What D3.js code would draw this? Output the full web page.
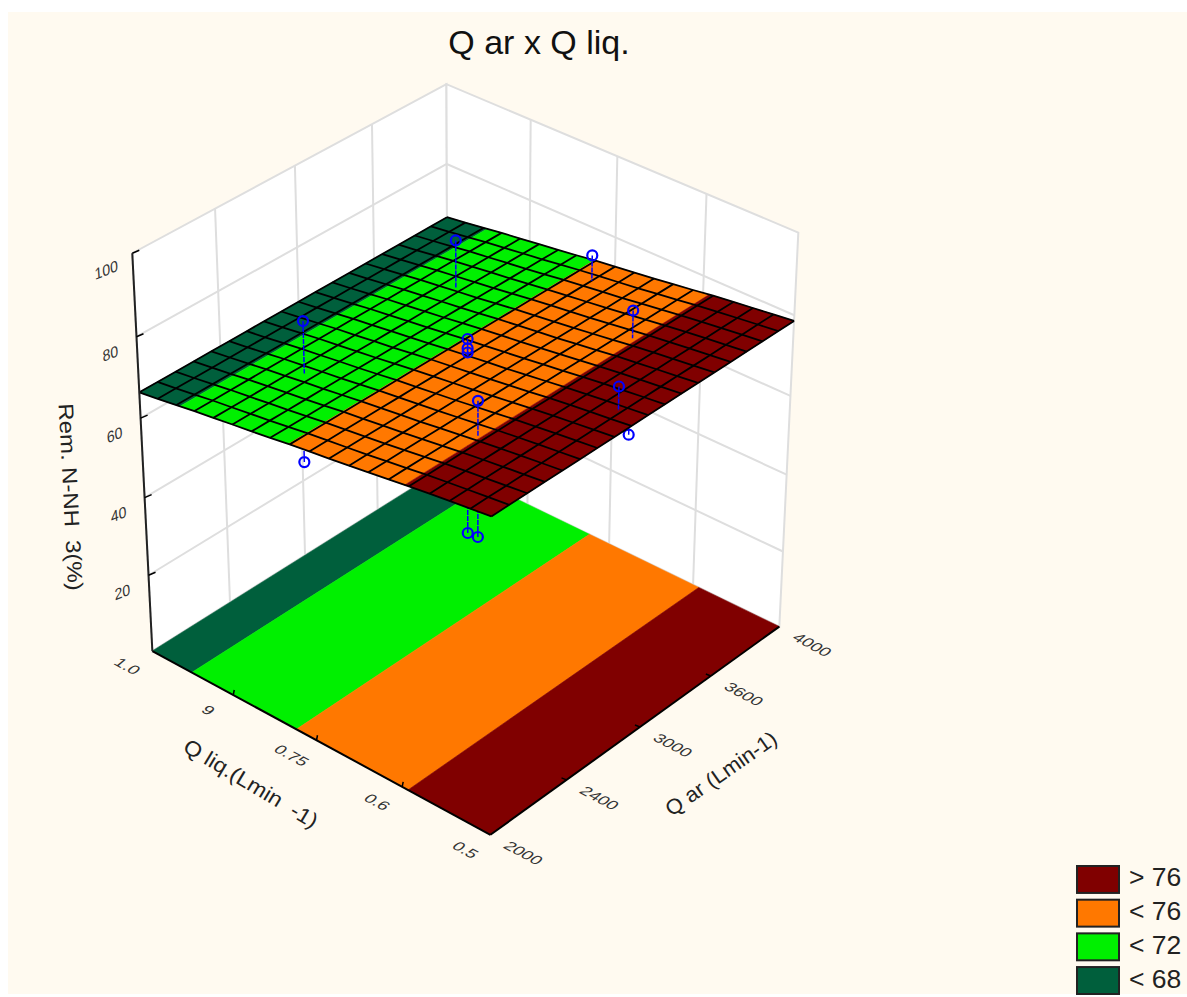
<!DOCTYPE html>
<html><head><meta charset="utf-8">
<script src="https://cdnjs.cloudflare.com/ajax/libs/d3/7.8.5/d3.min.js"></script>
<style>html,body{margin:0;padding:0;background:#fff}svg{display:block}text{font-family:"Liberation Sans",Arial,sans-serif}</style>
</head><body><svg id="c" width="1187" height="997"></svg>
<script>
// ---- data ----
const qarTicks = [2000, 2500, 3000, 3500, 4000];
const qarLabels = ["2000", "2400", "3000", "3600", "4000"];
const qliqTicks = [1.0, 0.875, 0.75, 0.625, 0.5];
const qliqLabels = ["1.0", "9", "0.75", "0.6", "0.5"];
const remTicks = [20, 40, 60, 80, 100];
const bandLimits = [68, 72, 76];
const legendLabels = ["> 76", "< 76", "< 72", "< 68"];
const legendColors = ["#800000", "#ff7800", "#00f000", "#005f3c"];
// surface height at each Q liq. grid row (Q liq. = 1.0 down to 0.5)
const surfaceQliq = [1.0,0.972,0.944,0.917,0.889,0.861,0.833,0.806,0.778,0.75,0.722,0.694,0.667,0.639,0.611,0.583,0.556,0.528,0.5];
const surfaceRem  = [66.4,67.1,67.85,68.6,69.25,69.95,70.6,71.3,72.05,72.7,73.35,74.0,74.7,75.4,76.15,76.8,77.4,78.0,78.6];
const surfaceQar  = [2000,2111,2222,2333,2444,2556,2667,2778,2889,3000,3111,3222,3333,3444,3556,3667,3778,3889,4000];
// observed points
const obsQar  = [3470,2504,3000,3000,3000,2470,2000,3000,2470,3838,3500,2960,2872];
const obsQliq = [0.870,0.875,0.75,0.75,0.75,0.62,0.7575,0.75,0.62,0.75,0.623,0.532,0.5];
const obsRem  = [81.5,82.4,76.8,74.5,73.5,84.5,69.5,27.9,51.5,79.0,82.6,83.75,76.9];

// ---- view: where the corners of the plot box fall on the page ----
const view = [
 [0,0,0,490,835],[1,0,0,780,626],[0,1,0,153,651],[1,1,0,447,466],
 [0,1,1,132,253],[1,0,1,798,233],[1,1,1,447,84]
];
function solve(A,b){const n=b.length;const M=A.map((r,i)=>[...r,b[i]]);
 for(let i=0;i<n;i++){let p=i;for(let k=i+1;k<n;k++)if(Math.abs(M[k][i])>Math.abs(M[p][i]))p=k;[M[i],M[p]]=[M[p],M[i]];
  for(let k=0;k<n;k++){if(k===i)continue;const f=M[k][i]/M[i][i];for(let j=i;j<=n;j++)M[k][j]-=f*M[i][j];}}
 return M.map((r,i)=>r[n]/r[i]);}
const rows=[],rhs=[];
view.forEach(([x,y,z,X,Y])=>{
 rows.push([x,y,z,1,0,0,0,0,-X*x,-X*y,-X*z]);rhs.push(X);
 rows.push([0,0,0,0,x,y,z,1,-Y*x,-Y*y,-Y*z]);rhs.push(Y);});
const AtA=d3.range(11).map(i=>d3.range(11).map(j=>d3.sum(rows,r=>r[i]*r[j])));
const Atb=d3.range(11).map(i=>d3.sum(rows,(r,k)=>r[i]*rhs[k]));
const P=solve(AtA,Atb);
const unit=(u,v,w)=>{const d=P[8]*u+P[9]*v+P[10]*w+1;return [(P[0]*u+P[1]*v+P[2]*w+P[3])/d,(P[4]*u+P[5]*v+P[6]*w+P[7])/d];};

const sx=d3.scaleLinear().domain([2000,4000]).range([0,1]);
const sy=d3.scaleLinear().domain([0.5,1.0]).range([0,1]);
const sz=d3.scaleLinear().domain([0,100]).range([0,1]);
const pr=(q,l,r)=>unit(sx(q),sy(l),sz(r));
const line=d3.line();
const surf=d3.scaleLinear().domain(surfaceQliq).range(surfaceRem);
const levelToQliq=d3.scaleLinear().domain(surfaceRem).range(surfaceQliq);

const svg=d3.select("#c");
svg.append("rect").attr("x",8).attr("y",12).attr("width",1179).attr("height",982).attr("fill","#fffaf0");
const GRID="#dedede";
// walls
const [x0,x1]=sx.domain(),[y0,y1]=[0.5,1.0];
const wall=(pts)=>svg.append("path").attr("d",line(pts)+"Z").attr("fill","#fff").attr("stroke",GRID).attr("stroke-width",2);
wall([pr(x0,y1,0),pr(x1,y1,0),pr(x1,y1,100),pr(x0,y1,100)]);
wall([pr(x1,y1,0),pr(x1,y0,0),pr(x1,y0,100),pr(x1,y1,100)]);
const seg=(g,a,b,c,w)=>g.append("path").attr("d",line([a,b])).attr("stroke",c).attr("stroke-width",w).attr("fill","none");
const gg=svg.append("g");
remTicks.slice(0,4).forEach(r=>{seg(gg,pr(x0,y1,r),pr(x1,y1,r),GRID,2);seg(gg,pr(x1,y1,r),pr(x1,y0,r),GRID,2);});
qarTicks.slice(1,4).forEach(q=>seg(gg,pr(q,y1,0),pr(q,y1,100),GRID,2));
qliqTicks.slice(1,4).forEach(l=>seg(gg,pr(x1,l,0),pr(x1,l,100),GRID,2));

// band edges in Q liq.
const limits=[1.0,...bandLimits.map(levelToQliq),0.5];
const bandColors=legendColors.slice().reverse();
// floor bands
const floorG=svg.append("g");
bandColors.forEach((c,i)=>{const a=limits[i],b=limits[i+1];
 floorG.append("path").attr("d",line([pr(x0,a,0),pr(x1,a,0),pr(x1,b,0),pr(x0,b,0)])+"Z").attr("fill",c).attr("stroke",c).attr("stroke-width",0.6);});
seg(svg,pr(x0,y1,0),pr(x0,y0,0),"#000",2);
seg(svg,pr(x0,y0,0),pr(x1,y0,0),"#000",2);

// points: those beneath the surface go behind it
const obs=obsQar.map((q,i)=>({q,l:obsQliq[i],r:obsRem[i]}));
const BLUE="#0000ff";
function drawObs(list){
 const g=svg.append("g");
 list.forEach(o=>{
  g.append("path").attr("d",line([pr(o.q,o.l,o.r),pr(o.q,o.l,surf(o.l))])).attr("stroke",BLUE).attr("stroke-width",1.5).attr("stroke-dasharray","5 1").attr("fill","none");
  const [X,Y]=pr(o.q,o.l,o.r);
  g.append("circle").attr("cx",X).attr("cy",Y).attr("r",5).attr("fill","none").attr("stroke",BLUE).attr("stroke-width",2.2);
 });
}
drawObs(obs.filter(o=>o.r<surf(o.l)));

// surface: colour bands
const surfG=svg.append("g");
bandColors.forEach((c,i)=>{const a=limits[i],b=limits[i+1];
 const qs=surfaceQliq.filter(l=>l<a&&l>b);
 const ls=[a,...qs,b];
 const fwd=ls.map(l=>pr(x0,l,surf(l)));
 const back=ls.slice().reverse().map(l=>pr(x1,l,surf(l)));
 surfG.append("path").attr("d",line([...fwd,...back])+"Z").attr("fill",c).attr("stroke",c).attr("stroke-width",0.5);
});
// surface: mesh
const mesh=svg.append("g");
surfaceQliq.forEach(l=>mesh.append("path").attr("d",line(surfaceQar.map(q=>pr(q,l,surf(l))))).attr("fill","none").attr("stroke","#000").attr("stroke-width",1.8));
surfaceQar.forEach(q=>mesh.append("path").attr("d",line(surfaceQliq.map(l=>pr(q,l,surf(l))))).attr("fill","none").attr("stroke","#000").attr("stroke-width",1.8));
drawObs(obs.filter(o=>o.r>=surf(o.l)));

// axes
seg(svg,pr(x0,y1,0),pr(x0,y1,100),"#222",2);
const tick=(a,b)=>seg(svg,a,b,"#000",1.5);
remTicks.forEach(r=>{const p=pr(x0,y1,r);tick(p,[p[0]+7,p[1]-3]);});
qliqTicks.slice(1,4).forEach(l=>{const p=pr(x0,l,0);tick(p,[p[0]+1,p[1]-5]);});
qarTicks.slice(1,4).forEach(q=>{const p=pr(q,y0,0);tick(p,[p[0]-5,p[1]-2]);});

const label=(x,y,tf,t,size,col)=>svg.append("text").attr("transform",`translate(${x},${y}) ${tf}`).attr("text-anchor","middle").attr("dominant-baseline","middle").attr("font-size",size).attr("fill",col||"#222").text(t);
qliqTicks.forEach((l,i)=>{const p=pr(x0,l,0);label(p[0]-26,p[1]+16,"rotate(28) skewX(-22) scale(1.25,1)",qliqLabels[i],14,"#333");});
qarTicks.forEach((q,i)=>{const p=pr(q,y0,0);label(p[0]+32,p[1]+19,"rotate(28) skewX(-22) scale(1.25,1)",qarLabels[i],14,"#333");});
remTicks.forEach(r=>{const p=pr(x0,y1,r);label(p[0]-26,p[1]+18,"rotate(-22) skewX(-18)",String(r),15,"#333");});
label(539,45,"","Q ar x Q liq.",34,"#111");
label(250,785,"rotate(31) scale(1.1,1)","Q liq.(Lmin\u00a0\u00a0-1)",21);
label(722,775,"rotate(-35) scale(1.05,1)","Q ar (Lmin-1)",21);
label(69,497,"rotate(87) scale(1.14,1)","Rem. N-NH\u00a0\u00a03(%)",21);

// legend
const legY=d3.scaleBand().domain(legendLabels).range([866,994]).paddingInner(0.2);
const leg=svg.append("g");
legendLabels.forEach((t,i)=>{
 leg.append("rect").attr("x",1077).attr("y",legY(t)).attr("width",42).attr("height",legY.bandwidth()).attr("fill",legendColors[i]).attr("stroke","#222").attr("stroke-width",2);
 leg.append("text").attr("x",1129).attr("y",legY(t)+legY.bandwidth()/2).attr("dominant-baseline","middle").attr("font-size",26.5).attr("fill","#222").text(t);
});
</script></body></html>
